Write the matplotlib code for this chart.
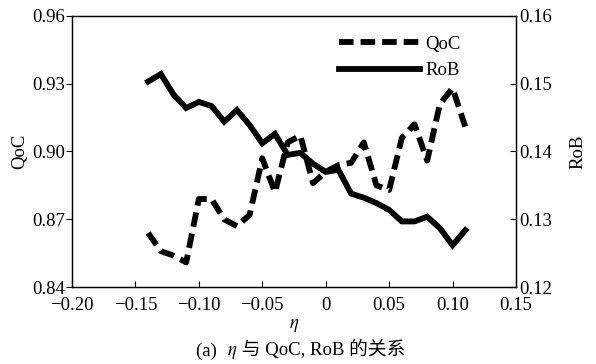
import matplotlib
matplotlib.use("Agg")
import matplotlib.pyplot as plt
from matplotlib.ticker import FixedLocator, FuncFormatter
from matplotlib.offsetbox import TextArea, HPacker, AnnotationBbox

plt.rcParams['font.family'] = ['Liberation Serif', 'Noto Sans CJK SC']
plt.rcParams['mathtext.fontset'] = 'stix'
plt.rcParams['axes.unicode_minus'] = True

eta = [-0.14, -0.13, -0.12, -0.11, -0.10, -0.09, -0.08, -0.07, -0.06, -0.05,
       -0.04, -0.03, -0.02, -0.01, 0.00, 0.01, 0.02, 0.03, 0.04, 0.05,
       0.06, 0.07, 0.08, 0.09, 0.10, 0.11]
qoc = [0.864, 0.856, 0.854, 0.851, 0.879, 0.879, 0.870, 0.867, 0.872, 0.897,
       0.882, 0.904, 0.907, 0.886, 0.891, 0.894, 0.895, 0.904, 0.885, 0.883,
       0.906, 0.912, 0.896, 0.921, 0.928, 0.911]
rob = [0.1503, 0.1514, 0.1484, 0.1464, 0.1473, 0.1467, 0.1444, 0.1461, 0.1439, 0.1412,
       0.1426, 0.1395, 0.1398, 0.1382, 0.1370, 0.1373, 0.1338, 0.1332, 0.1324, 0.1314,
       0.1297, 0.1297, 0.1304, 0.1287, 0.1262, 0.1284]

xticks = [-0.20, -0.15, -0.10, -0.05, 0.0, 0.05, 0.10, 0.15]
qoc_ticks = [0.84, 0.87, 0.90, 0.93, 0.96]
rob_ticks = [0.12, 0.13, 0.14, 0.15, 0.16]

fs = 13.5
fig = plt.figure(figsize=(5.96, 3.64), dpi=100)
ax = fig.add_axes([0.1208, 0.2107, 0.745, 0.7462])
ax2 = ax.twinx()

l1, = ax.plot(eta, qoc, color='black', lw=4.2, linestyle=(0, (2.5, 1.2)),
              dash_capstyle='butt', label='QoC')
l2, = ax2.plot(eta, rob, color='black', lw=4.2, solid_joinstyle='miter', label='RoB')

ax.set_xlim(-0.20, 0.15)
ax.set_ylim(0.84, 0.96)
ax2.set_ylim(0.12, 0.16)

def xfmt(v, pos):
    if abs(v) < 1e-9:
        return '0'
    s = '%.2f' % abs(v)
    return ('\u2212' + s) if v < 0 else s

ax.xaxis.set_major_locator(FixedLocator(xticks))
ax.xaxis.set_major_formatter(FuncFormatter(xfmt))
ax.yaxis.set_major_locator(FixedLocator(qoc_ticks))
ax.yaxis.set_major_formatter(FuncFormatter(lambda v, p: '%.2f' % v))
ax2.yaxis.set_major_locator(FixedLocator(rob_ticks))
ax2.yaxis.set_major_formatter(FuncFormatter(lambda v, p: '%.2f' % v))

ax.tick_params(axis='x', direction='in', length=4, width=0.8, labelsize=fs, pad=7)
ax.tick_params(axis='y', direction='out', length=4, width=0.8, labelsize=fs, pad=1)
ax2.tick_params(axis='y', direction='in', length=4, width=0.8, labelsize=fs, pad=2)
for a in (ax, ax2):
    for sp in a.spines.values():
        sp.set_linewidth(0.9)

ax.set_ylabel('QoC', fontsize=fs, labelpad=3)
ax2.set_ylabel('RoB', fontsize=fs, labelpad=13)
ax.set_xlabel(r'$\eta$', fontsize=fs, labelpad=2)

leg = ax2.legend(handles=[l1, l2], loc='upper left', bbox_to_anchor=(0.572, 0.975),
                 frameon=False, fontsize=fs, handlelength=4.3, handletextpad=0.3,
                 labelspacing=0.5, borderpad=0.2)

tprops = dict(fontsize=fs)
parts = [TextArea('(a)  ', textprops=tprops),
         TextArea(r'$\eta$', textprops=tprops),
         TextArea(' 与 QoC, RoB 的关系', textprops=tprops)]
pack = HPacker(children=parts, align='baseline', pad=0, sep=0)
ab = AnnotationBbox(pack, (0.505, 0.036), xycoords='figure fraction', frameon=False,
                    box_alignment=(0.5, 0.5), pad=0)
fig.add_artist(ab)

fig.savefig('out.png', dpi=100)
